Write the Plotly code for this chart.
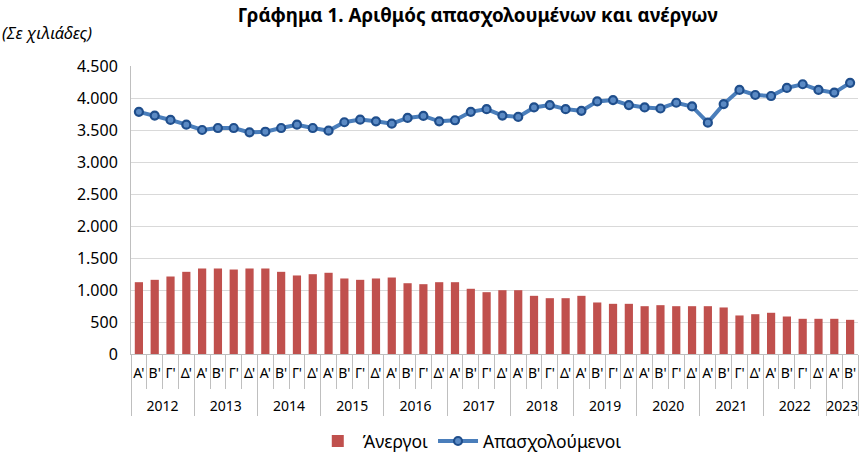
import plotly.graph_objects as go

# ---- data (thousands) ----
year_labels = ["2012", "2013", "2014", "2015", "2016", "2017",
               "2018", "2019", "2020", "2021", "2022", "2023"]
quarter_labels = ["Α'", "Β'", "Γ'", "Δ'"]
quarters_per_year = [4, 4, 4, 4, 4, 4, 4, 4, 4, 4, 4, 2]

unemployed = [1122, 1159, 1211, 1284, 1336, 1336, 1320, 1336,
              1336, 1284, 1227, 1247, 1269, 1180, 1159, 1180,
              1195, 1106, 1091, 1122, 1122, 1019, 966, 997,
              997, 909, 872, 872, 909, 805, 784, 784,
              747, 763, 747, 747, 747, 727, 602, 622,
              644, 586, 550, 550, 550, 534]

employed = [3784, 3725, 3657, 3583, 3500, 3531, 3531, 3463,
            3473, 3531, 3583, 3531, 3489, 3621, 3662, 3636,
            3599, 3689, 3720, 3636, 3652, 3784, 3826, 3725,
            3705, 3852, 3889, 3826, 3799, 3947, 3968, 3889,
            3852, 3836, 3926, 3868, 3615, 3905, 4126, 4047,
            4031, 4158, 4215, 4126, 4084, 4237]

y_ticks = [0, 500, 1000, 1500, 2000, 2500, 3000, 3500, 4000, 4500]

x_year = []
x_quarter = []
for y, n in zip(year_labels, quarters_per_year):
    for q in quarter_labels[:n]:
        x_year.append(y)
        # second (blank) line adds vertical room between the two label rows
        x_quarter.append(q + "<br>\u00a0")

FONT = "Noto Sans"

fig = go.Figure()
fig.add_trace(go.Bar(
    x=[x_year, x_quarter], y=unemployed, name="Άνεργοι",
    marker=dict(color="#C0504D", line=dict(width=0)),
))
fig.add_trace(go.Scatter(
    x=[x_year, x_quarter], y=employed, name="Απασχολούμενοι",
    mode="lines+markers",
    line=dict(color="#4A7EBB", width=4),
    marker=dict(size=8, color="#5B8AC4", line=dict(color="#1F4E8C", width=2.2)),
))

fig.update_layout(
    width=861, height=458,
    margin=dict(l=131, r=3, t=66, b=104, autoexpand=False),
    paper_bgcolor="white", plot_bgcolor="white",
    separators=",.",
    bargap=0.48,
    font=dict(family=FONT, size=13, color="#000000"),
    title=dict(text="<b>Γράφημα 1. Αριθμός απασχολουμένων και ανέργων</b>",
               x=0.555, xanchor="center", y=0.967, yanchor="middle",
               font=dict(family=FONT, size=18.8, color="#000000")),
    showlegend=True,
    legend=dict(orientation="h", x=0.466, xanchor="center", y=-0.24, yanchor="top",
                font=dict(family=FONT, size=17.5), itemwidth=40,
                traceorder="normal"),
    annotations=[dict(text="<i>(Σε χιλιάδες)</i>", xref="paper", yref="paper",
                      x=-0.18, y=1.118, xanchor="left", yanchor="middle",
                      showarrow=False, font=dict(family=FONT, size=16.5))],
)

fig.update_yaxes(
    range=[0, 4500], tickvals=y_ticks, tickformat=",d",
    showgrid=True, gridcolor="#D9D9D9", gridwidth=1,
    showline=True, linecolor="#BFBFBF", linewidth=1,
    zeroline=False, ticks="", tickfont=dict(size=16), ticklabelstandoff=9,
    automargin=False,
)
fig.update_xaxes(
    type="multicategory", showline=True, linecolor="#BFBFBF",
    ticks="outside", tickson="boundaries", ticklen=34, tickcolor="#BFBFBF",
    dividercolor="#BFBFBF", dividerwidth=1,
    showgrid=False, tickfont=dict(size=14), tickangle=0,
    tickmode="linear", tick0=0, dtick=1, nticks=60,
    ticklabelstandoff=6,
    range=[-0.5, 45.5], automargin=False,
)

fig.write_html("out.html", config={"displayModeBar": False},
               post_script="document.body.style.margin='0px';")
